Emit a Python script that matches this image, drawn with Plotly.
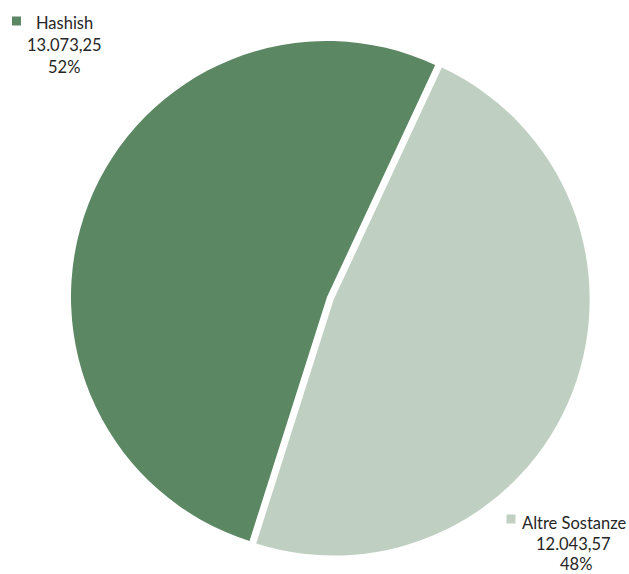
import plotly.graph_objects as go

labels = ["Hashish", "Altre Sostanze"]
values = [13073.25, 12043.57]
colors = ["#5b8763", "#bfd0c3"]

W, H = 629, 574

def fmt_it(v):
    s = f"{v:,.2f}"
    return s.replace(",", "X").replace(".", ",").replace("X", ".")

total = sum(values)
pcts = [f"{round(v / total * 100)}%" for v in values]

# pie geometry (pixels)
cx, cy, r, pull = 327, 297, 256, 0.028
half = r * (1 + pull)
boundary_angle = 25  # clockwise from 12 o'clock, end of Hashish slice
start_rot = boundary_angle - 360 * values[0] / total + 360

fig = go.Figure(go.Pie(
    labels=labels, values=values, sort=False,
    direction="clockwise", rotation=start_rot,
    marker=dict(colors=colors, line=dict(color="white", width=0)),
    pull=[0, pull], textinfo="none", hoverinfo="label+value+percent",
    showlegend=False,
    domain=dict(x=[(cx - half) / W, (cx + half) / W],
                y=[1 - (cy + half) / H, 1 - (cy - half) / H]),
))

font = dict(family="Lato, sans-serif", size=16.5, color="#262626")

# label blocks: (center x of each line, y of each line, marker x, marker y)
blocks = [
    ([64, 64, 64], [23, 45, 67], 16.5, 21),
    ([574.5, 573, 576], [523, 543.5, 564], 511, 519),
]
ann = []
shapes = []
for i, (xs, ys, mx, my) in enumerate(blocks):
    lines = [labels[i], fmt_it(values[i]), pcts[i]]
    for t, x, y in zip(lines, xs, ys):
        ann.append(dict(text=t, x=x / W, y=1 - y / H,
                        xref="paper", yref="paper", showarrow=False,
                        xanchor="center", yanchor="middle", font=font))
    shapes.append(dict(type="rect", xref="paper", yref="paper",
                       x0=(mx - 4.5) / W, x1=(mx + 4.5) / W,
                       y0=1 - (my + 4.5) / H, y1=1 - (my - 4.5) / H,
                       fillcolor=colors[i], line=dict(width=0)))

fig.update_layout(width=W, height=H, margin=dict(l=0, r=0, t=0, b=0),
                  paper_bgcolor="white", plot_bgcolor="white",
                  annotations=ann, shapes=shapes)
fig.write_html("out.html", config={"displayModeBar": False},
               post_script="document.body.style.margin='0';document.body.style.overflow='hidden';")
